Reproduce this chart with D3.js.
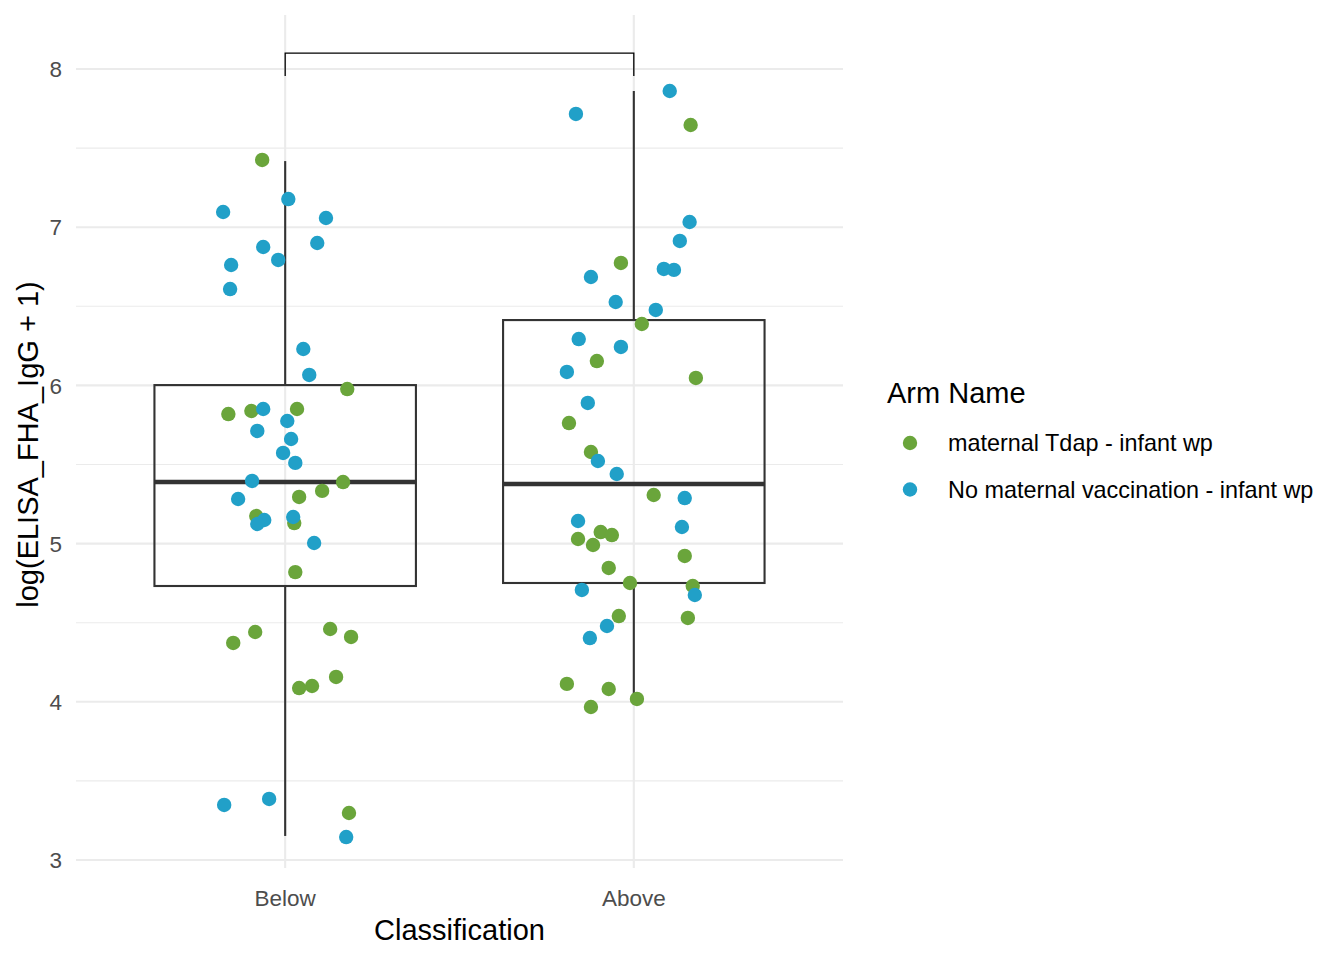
<!DOCTYPE html>
<html>
<head>
<meta charset="utf-8">
<script src="https://cdn.jsdelivr.net/npm/d3@7"></script>
<style>
  body { margin: 0; background: #fff; }
  text { font-family: "Liberation Sans", Arial, Helvetica, sans-serif; }
  .grid-major { stroke: #ebebeb; stroke-width: 2.1; }
  .grid-minor { stroke: #ebebeb; stroke-width: 1.1; }
  .axis-text { fill: #4d4d4d; font-size: 22.5px; }
  .axis-title { fill: #000; font-size: 29px; }
  .legend-text { fill: #000; font-size: 23.4px; }
</style>
</head>
<body>
<svg id="chart"></svg>
<script>
// categories and groups
const classes = ["Below", "Above"];
const arms = ["maternal Tdap - infant wp", "No maternal vaccination - infant wp"];
const armColors = ["#6aa53b", "#21a0c8"];
const yTicks = [3, 4, 5, 6, 7, 8];
const yMinor = [3.5, 4.5, 5.5, 6.5, 7.5];

// box stats: [lower whisker, q1, median, q3, upper whisker]
const boxBelow = [3.152, 4.732, 5.389, 6.002, 7.418];
const boxAbove = [3.980, 4.751, 5.377, 6.413, 7.861];

// points: [jitter (fraction of category step), value]
const belowTdap = [
  [-0.066, 7.425], [-0.163, 5.819], [-0.097, 5.838], [0.034, 5.851], [0.178, 5.977],
  [-0.083, 5.174], [0.040, 5.295], [0.106, 5.333], [0.166, 5.389], [0.026, 5.130],
  [0.029, 4.820], [-0.149, 4.372], [-0.086, 4.441], [0.129, 4.460], [0.189, 4.410],
  [0.040, 4.087], [0.077, 4.100], [0.146, 4.157], [0.183, 3.297]
];
const belowNone = [
  [-0.178, 7.096], [0.009, 7.178], [0.117, 7.058], [-0.063, 6.875], [-0.155, 6.761],
  [-0.020, 6.793], [0.092, 6.900], [-0.158, 6.609], [0.052, 6.230], [0.069, 6.066],
  [-0.063, 5.851], [0.006, 5.775], [-0.080, 5.712], [0.017, 5.661], [-0.006, 5.573],
  [0.029, 5.510], [-0.095, 5.396], [-0.135, 5.282], [-0.060, 5.149], [-0.080, 5.124],
  [0.023, 5.168], [0.083, 5.004], [-0.175, 3.348], [-0.046, 3.386], [0.175, 3.145]
];
const aboveTdap = [
  [0.163, 7.646], [-0.037, 6.774], [0.023, 6.388], [-0.106, 6.154], [0.178, 6.047],
  [-0.186, 5.762], [-0.123, 5.579], [0.057, 5.307], [-0.095, 5.073], [-0.063, 5.054],
  [-0.160, 5.029], [-0.117, 4.991], [0.146, 4.922], [-0.072, 4.846], [-0.011, 4.751],
  [0.169, 4.732], [-0.043, 4.542], [0.155, 4.530], [-0.192, 4.113], [-0.072, 4.081],
  [0.009, 4.018], [-0.123, 3.967]
];
const aboveNone = [
  [0.103, 7.861], [-0.166, 7.716], [0.160, 7.033], [0.132, 6.913], [0.086, 6.736],
  [0.115, 6.730], [-0.123, 6.685], [-0.052, 6.527], [0.063, 6.477], [-0.158, 6.293],
  [-0.037, 6.243], [-0.192, 6.085], [-0.132, 5.889], [-0.103, 5.522], [-0.049, 5.440],
  [0.146, 5.288], [-0.160, 5.143], [0.138, 5.105], [-0.149, 4.707], [0.175, 4.675],
  [-0.077, 4.479], [-0.126, 4.403]
];

// significance bracket: [bar height, tip bottom]
const bracket = [8.10, 7.955];

class JitterBoxChart {
  constructor(_config) {
    this.config = {
      parentElement: _config.parentElement,
      containerWidth: _config.containerWidth || 1344,
      containerHeight: _config.containerHeight || 960,
      panel: {left: 76, right: 843, top: 15, bottom: 868}
    };
    this.initVis();
  }

  initVis() {
    let vis = this;
    const p = vis.config.panel;

    vis.svg = d3.select(vis.config.parentElement)
        .attr('width', vis.config.containerWidth)
        .attr('height', vis.config.containerHeight);

    vis.xScale = d3.scalePoint()
        .domain(classes)
        .range([p.left, p.right])
        .padding(0.6);

    vis.yScale = d3.scaleLinear()
        .domain([3, 8])
        .range([860, 69]);

    vis.step = vis.xScale.step();
    vis.renderVis();
  }

  renderVis() {
    let vis = this;
    const p = vis.config.panel;
    const x = vis.xScale, y = vis.yScale;

    // grid
    const grid = vis.svg.append('g');
    grid.selectAll('.grid-minor')
      .data(yMinor)
      .join('line')
        .attr('class', 'grid-minor')
        .attr('x1', p.left).attr('x2', p.right)
        .attr('y1', d => y(d)).attr('y2', d => y(d));
    grid.selectAll('.grid-major.h')
      .data(yTicks)
      .join('line')
        .attr('class', 'grid-major h')
        .attr('x1', p.left).attr('x2', p.right)
        .attr('y1', d => y(d)).attr('y2', d => y(d));
    grid.selectAll('.grid-major.v')
      .data(classes)
      .join('line')
        .attr('class', 'grid-major v')
        .attr('x1', d => x(d)).attr('x2', d => x(d))
        .attr('y1', p.top).attr('y2', p.bottom);

    // boxplots
    const boxes = [[classes[0], boxBelow], [classes[1], boxAbove]];
    const halfW = vis.step * 0.75 / 2;
    const bx = vis.svg.append('g')
        .attr('stroke', '#333333')
        .attr('fill', 'none');
    boxes.forEach(([cls, s]) => {
      const cx = x(cls);
      bx.append('line')
          .attr('x1', cx).attr('x2', cx)
          .attr('y1', y(s[0])).attr('y2', y(s[1]))
          .attr('stroke-width', 2.1);
      bx.append('line')
          .attr('x1', cx).attr('x2', cx)
          .attr('y1', y(s[3])).attr('y2', y(s[4]))
          .attr('stroke-width', 2.1);
      bx.append('rect')
          .attr('x', cx - halfW)
          .attr('width', halfW * 2)
          .attr('y', y(s[3]))
          .attr('height', y(s[1]) - y(s[3]))
          .attr('stroke-width', 2.1);
      bx.append('line')
          .attr('x1', cx - halfW).attr('x2', cx + halfW)
          .attr('y1', y(s[2])).attr('y2', y(s[2]))
          .attr('stroke-width', 4.5);
    });

    // jittered points
    const series = [
      {cls: classes[0], arm: 0, pts: belowTdap},
      {cls: classes[0], arm: 1, pts: belowNone},
      {cls: classes[1], arm: 0, pts: aboveTdap},
      {cls: classes[1], arm: 1, pts: aboveNone}
    ];
    const pts = vis.svg.append('g');
    series.forEach(s => {
      pts.selectAll(null)
        .data(s.pts)
        .join('circle')
          .attr('cx', d => x(s.cls) + d[0] * vis.step)
          .attr('cy', d => y(d[1]))
          .attr('r', 7.2)
          .attr('fill', armColors[s.arm]);
    });

    // bracket
    vis.svg.append('path')
        .attr('d', `M${x(classes[0])},${y(bracket[1])}V${y(bracket[0])}H${x(classes[1])}V${y(bracket[1])}`)
        .attr('fill', 'none')
        .attr('stroke', '#000')
        .attr('stroke-width', 1.3);

    // y axis labels
    vis.svg.append('g').selectAll('text')
      .data(yTicks)
      .join('text')
        .attr('class', 'axis-text')
        .attr('x', 62)
        .attr('y', d => y(d))
        .attr('dy', '0.36em')
        .attr('text-anchor', 'end')
        .text(d => d);

    // x axis labels
    vis.svg.append('g').selectAll('text')
      .data(classes)
      .join('text')
        .attr('class', 'axis-text')
        .attr('x', d => x(d))
        .attr('y', 906)
        .attr('text-anchor', 'middle')
        .text(d => d);

    vis.svg.append('text')
        .attr('class', 'axis-title')
        .attr('x', (p.left + p.right) / 2)
        .attr('y', 940)
        .attr('text-anchor', 'middle')
        .text('Classification');

    vis.svg.append('text')
        .attr('class', 'axis-title')
        .attr('transform', `translate(38,${(p.top + p.bottom) / 2 + 3}) rotate(-90)`)
        .attr('text-anchor', 'middle')
        .text('log(ELISA_FHA_IgG + 1)');

    // legend
    const lg = vis.svg.append('g');
    lg.append('text')
        .attr('class', 'axis-title')
        .attr('x', 887)
        .attr('y', 403)
        .text('Arm Name');
    const items = lg.selectAll('g.item')
      .data(arms)
      .join('g')
        .attr('class', 'item')
        .attr('transform', (d, i) => `translate(0,${443 + i * 46.5})`);
    items.append('circle')
        .attr('cx', 910)
        .attr('r', 7.2)
        .attr('fill', (d, i) => armColors[i]);
    items.append('text')
        .attr('class', 'legend-text')
        .attr('x', 948)
        .attr('dy', '0.36em')
        .text(d => d);
  }
}

new JitterBoxChart({parentElement: '#chart'});
</script>
</body>
</html>
